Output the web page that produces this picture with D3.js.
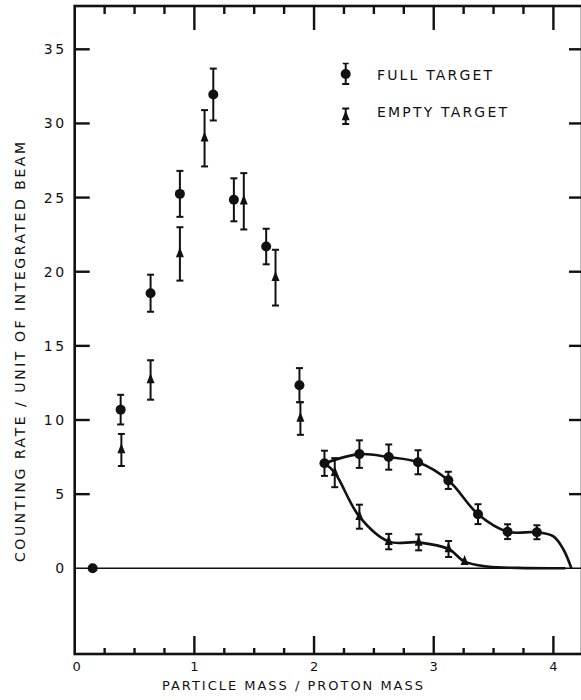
<!DOCTYPE html>
<html>
<head>
<meta charset="utf-8">
<script src="https://cdn.jsdelivr.net/npm/d3@7"></script>
<style>
  body { margin: 0; background: #fff; }
  text { font-family: "DejaVu Sans", sans-serif; fill: #111; }
</style>
</head>
<body>
<div class="vis"></div>
<script>
// full target points (circles)
const fullX = [0.15, 0.384, 0.634, 0.879, 1.158, 1.33, 1.6, 1.878, 2.087, 2.379, 2.624, 2.869, 3.122, 3.37, 3.617, 3.862];
const fullY = [0, 10.7, 18.55, 25.25, 31.95, 24.85, 21.7, 12.35, 7.08, 7.7, 7.5, 7.15, 5.93, 3.65, 2.47, 2.43];
const fullErr = [0, 1.0, 1.25, 1.55, 1.75, 1.45, 1.2, 1.15, 0.85, 0.93, 0.85, 0.81, 0.58, 0.67, 0.5, 0.47];

// empty target points (triangles)
const emptyX = [0.39, 0.634, 0.879, 1.085, 1.413, 1.678, 1.886, 2.173, 2.379, 2.624, 2.874, 3.124, 3.258];
const emptyY = [7.98, 12.7, 21.2, 29.0, 24.75, 19.6, 10.1, 6.45, 3.48, 1.8, 1.75, 1.3, 0.45];
const emptyErr = [1.08, 1.33, 1.8, 1.9, 1.9, 1.88, 1.1, 0.98, 0.81, 0.52, 0.54, 0.54, 0];

// hand-drawn fit curves
const fullFitX = [2.087, 2.379, 2.624, 2.869, 3.122, 3.37, 3.617, 3.862, 4.0, 4.085, 4.15];
const fullFitY = [7.08, 7.7, 7.5, 7.15, 5.93, 3.65, 2.47, 2.43, 2.15, 1.25, 0];
const emptyFitX = [2.087, 2.173, 2.379, 2.624, 2.874, 3.124, 3.258, 3.45, 3.7, 4.1];
const emptyFitY = [7.08, 6.45, 3.48, 1.8, 1.75, 1.3, 0.45, 0.12, 0.03, 0];

const xMajor = [0, 1, 2, 3, 4];
const yMajor = [0, 5, 10, 15, 20, 25, 30, 35];
const legendLabels = ["FULL TARGET", "EMPTY TARGET"];

const draw = () => {
  const W = 581, H = 700;
  const margin = { top: 6, left: 74.7 };
  const width = 507.3, height = 648;

  const svg = d3.select(".vis").append("svg")
    .attr("width", W).attr("height", H);
  const g = svg.append("g")
    .attr("transform", "translate(" + margin.left + "," + margin.top + ")");

  const x = d3.scaleLinear().domain([0, 4.239]).range([0, width]);
  const y = d3.scaleLinear().domain([-5.78, 37.92]).range([height, 0]);

  const minor = d3.range(0, 4.01, 0.25).filter(v => v % 1 !== 0);

  // frame
  g.append("rect").attr("x", 0).attr("y", 0).attr("width", width).attr("height", height)
    .attr("fill", "none").attr("stroke", "#111").attr("stroke-width", 2.6);

  // ticks, pointing inward
  const tickG = g.append("g").attr("stroke", "#111").attr("stroke-width", 2.4);
  const vTicks = (vals, y0, len) => {
    tickG.append("g").selectAll("line").data(vals).join("line")
      .attr("x1", d => x(d)).attr("x2", d => x(d))
      .attr("y1", y0).attr("y2", y0 + len);
  };
  const hTicks = (vals, x0, len) => {
    tickG.append("g").selectAll("line").data(vals).join("line")
      .attr("y1", d => y(d)).attr("y2", d => y(d))
      .attr("x1", x0).attr("x2", x0 + len);
  };
  vTicks(xMajor.slice(1), height, -18);
  vTicks(minor, height, -6);
  vTicks(xMajor.slice(1), 0, 24);
  vTicks(minor, 0, 8);
  hTicks(yMajor.slice(1), 0, 15);
  hTicks(yMajor.slice(1), width, -13);

  // tick labels
  g.append("g").selectAll("text").data(xMajor).join("text")
    .attr("x", d => x(d) + (d === 0 ? 2 : 0)).attr("y", height + 17)
    .attr("text-anchor", "middle").style("font-size", "13px").text(d => d);
  g.append("g").selectAll("text").data(yMajor).join("text")
    .attr("x", -8).attr("y", d => y(d)).attr("dy", "0.36em")
    .attr("text-anchor", "end").style("font-size", "14px").style("letter-spacing", "2.5px")
    .text(d => d);

  // zero line
  g.append("line").attr("x1", 0).attr("x2", width).attr("y1", y(0)).attr("y2", y(0))
    .attr("stroke", "#111").attr("stroke-width", 1.6);

  // fit curves
  const line = d3.line().x(d => x(d[0])).y(d => y(d[1])).curve(d3.curveCatmullRom.alpha(0.5));
  g.append("path").datum(d3.zip(fullFitX, fullFitY)).attr("d", line)
    .attr("fill", "none").attr("stroke", "#111").attr("stroke-width", 2.6);
  g.append("path").datum(d3.zip(emptyFitX, emptyFitY)).attr("d", line)
    .attr("fill", "none").attr("stroke", "#111").attr("stroke-width", 2.6);

  // error bars
  const errBars = (xs, ys, es) => {
    const data = d3.zip(xs, ys, es).filter(d => d[2] > 0);
    const eg = g.append("g").attr("stroke", "#111").attr("stroke-width", 2);
    eg.append("g").selectAll("line").data(data).join("line")
      .attr("x1", d => x(d[0])).attr("x2", d => x(d[0]))
      .attr("y1", d => y(d[1] - d[2])).attr("y2", d => y(d[1] + d[2]));
    eg.append("g").selectAll("line").data(data).join("line")
      .attr("x1", d => x(d[0]) - 3.5).attr("x2", d => x(d[0]) + 3.5)
      .attr("y1", d => y(d[1] + d[2])).attr("y2", d => y(d[1] + d[2]));
    eg.append("g").selectAll("line").data(data).join("line")
      .attr("x1", d => x(d[0]) - 3.5).attr("x2", d => x(d[0]) + 3.5)
      .attr("y1", d => y(d[1] - d[2])).attr("y2", d => y(d[1] - d[2]));
  };
  errBars(fullX, fullY, fullErr);
  errBars(emptyX, emptyY, emptyErr);

  const tri = d3.symbol(d3.symbolTriangle, 34)();

  g.append("g").selectAll("circle").data(d3.zip(fullX, fullY)).join("circle")
    .attr("cx", d => x(d[0])).attr("cy", d => y(d[1])).attr("r", 5).attr("fill", "#111");
  g.append("g").selectAll("path").data(d3.zip(emptyX, emptyY)).join("path")
    .attr("d", tri).attr("fill", "#111")
    .attr("transform", d => "translate(" + x(d[0]) + "," + y(d[1]) + ") scale(0.9,1.3)");

  // legend
  const lg = svg.append("g").attr("stroke", "#111").attr("stroke-width", 2);
  const lx = 345.7;
  lg.append("line").attr("x1", lx).attr("x2", lx).attr("y1", 63.5).attr("y2", 84);
  lg.append("line").attr("x1", lx - 3).attr("x2", lx + 3).attr("y1", 63.5).attr("y2", 63.5).attr("stroke-width", 1.5);
  lg.append("line").attr("x1", lx - 3.5).attr("x2", lx + 3.5).attr("y1", 84).attr("y2", 84);
  lg.append("circle").attr("cx", lx).attr("cy", 74).attr("r", 5).attr("fill", "#111").attr("stroke", "none");
  lg.append("line").attr("x1", lx).attr("x2", lx).attr("y1", 108.5).attr("y2", 124);
  lg.append("line").attr("x1", lx - 3.5).attr("x2", lx + 3.5).attr("y1", 108.5).attr("y2", 108.5);
  lg.append("line").attr("x1", lx - 3.5).attr("x2", lx + 3.5).attr("y1", 124).attr("y2", 124);
  lg.append("path").attr("d", tri).attr("fill", "#111").attr("stroke", "none")
    .attr("transform", "translate(" + lx + ",117) scale(0.9,1.3)");
  svg.append("g").selectAll("text").data(legendLabels).join("text")
    .attr("x", 377).attr("y", (d, i) => 80 + i * 37.3)
    .attr("textLength", (d, i) => i === 0 ? 115 : 130).attr("lengthAdjust", "spacing")
    .style("font-size", "14px").text(d => d);

  // axis titles
  svg.append("text").attr("x", 292.5).attr("y", 690).attr("text-anchor", "middle")
    .attr("textLength", 261).attr("lengthAdjust", "spacing")
    .style("font-size", "13px").text("PARTICLE  MASS / PROTON  MASS");
  svg.append("text").attr("transform", "translate(25,352) rotate(-90)").attr("text-anchor", "middle")
    .attr("textLength", 420).attr("lengthAdjust", "spacing")
    .style("font-size", "14px").text("COUNTING  RATE / UNIT  OF  INTEGRATED  BEAM");
};

draw();
</script>
</body>
</html>
